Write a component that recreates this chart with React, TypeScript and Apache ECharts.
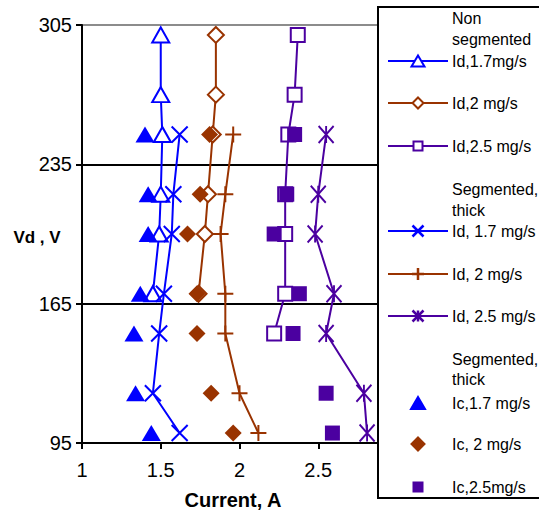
import React, { useEffect, useRef } from "react";
import * as echarts from "echarts";

// Discharge voltage levels (V)
const voltsNonSeg = [300, 270, 250, 220, 200, 170];
const voltsNonSeg25 = [300, 270, 250, 220, 200, 170, 150];
const voltsSeg = [250, 220, 200, 170, 150, 120, 100];

// Currents (A)
const idNonSeg17 = [1.5, 1.5, 1.51, 1.5, 1.49, 1.45];
const idNonSeg2 = [1.85, 1.85, 1.83, 1.8, 1.78, 1.74];
const idNonSeg25 = [2.37, 2.35, 2.31, 2.29, 2.29, 2.29, 2.22];
const idSeg17 = [1.62, 1.58, 1.57, 1.52, 1.49, 1.45, 1.62];
const idSeg2 = [1.96, 1.91, 1.88, 1.91, 1.91, 2.0, 2.12];
const idSeg25 = [2.55, 2.5, 2.48, 2.6, 2.55, 2.79, 2.81];
const icSeg17 = [1.4, 1.42, 1.42, 1.37, 1.33, 1.34, 1.44];
const icSeg2 = [1.81, 1.75, 1.67, 1.73, 1.73, 1.82, 1.96];
const icSeg25 = [2.35, 2.3, 2.22, 2.38, 2.34, 2.55, 2.59];

const xTicks = { min: 1, max: 3, step: 0.5 };
const yTicks = { min: 95, max: 305, step: 70 };

const BLUE = "#0000ff";
const BROWN = "#993300";
const PURPLE = "#4b00a0";
const FONT = "Liberation Sans, Arial, sans-serif";

const CROSS = "path://M0,0L10,10M10,0L0,10";
const PLUS = "path://M5,0L5,10M0,5L10,5";
const STAR = "path://M0,0L10,10M10,0L0,10M5,0L5,10";

const pairs = (xs: number[], ys: number[]) => xs.map((x, i) => [x, ys[i]]);

function lineSeries(name: string, xs: number[], ys: number[], color: string, symbol: string, size: any, open: boolean) {
  return {
    name,
    type: "line",
    z: 3,
    data: pairs(xs, ys),
    symbol,
    symbolSize: size,
    lineStyle: { color, width: 2 },
    itemStyle: { color: open ? "#ffffff" : color, borderColor: color, borderWidth: 2 },
  };
}

function scatterSeries(name: string, xs: number[], ys: number[], color: string, symbol: string, size: any) {
  return {
    name,
    type: "scatter",
    z: 3,
    data: pairs(xs, ys),
    symbol,
    symbolSize: size,
    itemStyle: { color, opacity: 1 },
  };
}

// Legend drawing helpers
const Z = 100;
function legendLine(y: number, color: string) {
  return { type: "line", z: Z, shape: { x1: 388, y1: y, x2: 448, y2: y }, style: { stroke: color, lineWidth: 2 } };
}
function legendText(y: number, text: string) {
  return {
    type: "text",
    z: Z,
    x: 452,
    y,
    style: { text, fill: "#000", font: `16px ${FONT}`, verticalAlign: "middle" },
  };
}
function triangle(cx: number, cy: number, w: number, h: number, fill: string, stroke: string) {
  return {
    type: "polygon",
    z: Z + 1,
    shape: { points: [[cx, cy - h / 2], [cx + w / 2, cy + h / 2], [cx - w / 2, cy + h / 2]] },
    style: { fill, stroke, lineWidth: 2 },
  };
}
function diamond(cx: number, cy: number, s: number, fill: string, stroke: string) {
  return {
    type: "polygon",
    z: Z + 1,
    shape: { points: [[cx, cy - s / 2], [cx + s / 2, cy], [cx, cy + s / 2], [cx - s / 2, cy]] },
    style: { fill, stroke, lineWidth: 2 },
  };
}
function square(cx: number, cy: number, s: number, fill: string, stroke: string) {
  return {
    type: "rect",
    z: Z + 1,
    shape: { x: cx - s / 2, y: cy - s / 2, width: s, height: s },
    style: { fill, stroke, lineWidth: 2 },
  };
}
function strokes(cx: number, cy: number, s: number, color: string, kind: "x" | "+" | "*") {
  const h = s / 2;
  const segs: number[][] = [];
  if (kind === "x" || kind === "*") {
    segs.push([cx - h, cy - h, cx + h, cy + h], [cx + h, cy - h, cx - h, cy + h]);
  }
  if (kind === "*") segs.push([cx, cy - h, cx, cy + h]);
  if (kind === "+") segs.push([cx, cy - h, cx, cy + h], [cx - h, cy, cx + h, cy]);
  return segs.map((p) => ({
    type: "line",
    z: Z + 1,
    shape: { x1: p[0], y1: p[1], x2: p[2], y2: p[3] },
    style: { stroke: color, lineWidth: 2.5 },
  }));
}

function buildLegend() {
  const mx = 418;
  const els: any[] = [
    { type: "rect", z: Z, shape: { x: 378, y: 7, width: 175, height: 491 }, style: { fill: "#fff", stroke: "#000", lineWidth: 2 } },
    legendText(18, "Non"),
    legendText(39, "segmented"),
    legendLine(61, BLUE),
    triangle(mx, 61, 13, 11, "#fff", BLUE),
    legendText(61, "Id,1.7mg/s"),
    legendLine(103, BROWN),
    diamond(mx, 103, 11, "#fff", BROWN),
    legendText(103, "Id,2 mg/s"),
    legendLine(146, PURPLE),
    square(mx, 146, 9, "#fff", PURPLE),
    legendText(146, "Id,2.5 mg/s"),
    legendText(189, "Segmented,"),
    legendText(210, "thick"),
    legendLine(231, BLUE),
    ...strokes(mx, 231, 11, BLUE, "x"),
    legendText(231, "Id, 1.7 mg/s"),
    legendLine(274, BROWN),
    ...strokes(mx, 274, 12, BROWN, "+"),
    legendText(274, "Id, 2 mg/s"),
    legendLine(316, PURPLE),
    ...strokes(mx, 316, 11, PURPLE, "*"),
    legendText(316, "Id, 2.5 mg/s"),
    legendText(359, "Segmented,"),
    legendText(379, "thick"),
    triangle(mx, 403, 14, 12, BLUE, BLUE),
    legendText(403, "Ic,1.7 mg/s"),
    diamond(mx, 444, 13, BROWN, BROWN),
    legendText(444, "Ic, 2 mg/s"),
    square(mx, 487, 9, PURPLE, PURPLE),
    legendText(487, "Ic,2.5mg/s"),
  ];
  return els;
}

export default function App() {
  const ref = useRef<HTMLDivElement>(null);

  useEffect(() => {
    if (!ref.current) return;
    const chart = echarts.init(ref.current, null, { renderer: "svg" });
    chart.setOption({
      animation: false,
      backgroundColor: "#ffffff",
      textStyle: { fontFamily: FONT },
      grid: { left: 82, top: 25, width: 315, height: 418 },
      xAxis: {
        type: "value",
        min: xTicks.min,
        max: xTicks.max,
        interval: xTicks.step,
        axisLine: { show: true, lineStyle: { color: "#000", width: 2 } },
        axisTick: { show: true, inside: false, length: 6, lineStyle: { color: "#000", width: 2 } },
        axisLabel: { color: "#000", fontSize: 20, margin: 17, fontFamily: FONT },
        splitLine: { show: false },
      },
      yAxis: {
        type: "value",
        min: yTicks.min,
        max: yTicks.max,
        interval: yTicks.step,
        axisLine: { show: true, lineStyle: { color: "#000", width: 2 } },
        axisTick: { show: true, inside: false, length: 6, lineStyle: { color: "#000", width: 2 } },
        axisLabel: { color: "#000", fontSize: 20, margin: 10, fontFamily: FONT },
        splitLine: { show: true, lineStyle: { color: ["#000", "#000", "#000", "#8c8c8c"], width: 2 } },
      },
      graphic: [
        {
          type: "text",
          x: 233,
          y: 500,
          style: { text: "Current, A", fill: "#000", font: `bold 20px ${FONT}`, align: "center", verticalAlign: "middle" },
        },
        {
          type: "text",
          x: 37,
          y: 237,
          style: { text: "Vd , V", fill: "#000", font: `bold 17px ${FONT}`, align: "center", verticalAlign: "middle" },
        },
        ...buildLegend(),
      ],
      series: [
        lineSeries("Non segmented Id,1.7mg/s", idNonSeg17, voltsNonSeg, BLUE, "triangle", [17, 15], true),
        lineSeries("Id,2 mg/s", idNonSeg2, voltsNonSeg, BROWN, "diamond", [16, 16], true),
        lineSeries("Id,2.5 mg/s", idNonSeg25, voltsNonSeg25, PURPLE, "rect", [14, 14], true),
        lineSeries("Segmented, thick Id, 1.7 mg/s", idSeg17, voltsSeg, BLUE, CROSS, [16, 16], false),
        lineSeries("Id, 2 mg/s", idSeg2, voltsSeg, BROWN, PLUS, [16, 16], false),
        lineSeries("Id, 2.5 mg/s", idSeg25, voltsSeg, PURPLE, STAR, [15, 17], false),
        scatterSeries("Segmented, thick Ic,1.7 mg/s", icSeg17, voltsSeg, BLUE, "triangle", [19, 16]),
        scatterSeries("Ic, 2 mg/s", icSeg2, voltsSeg, BROWN, "diamond", [17, 17]),
        scatterSeries("Ic,2.5mg/s", icSeg25, voltsSeg, PURPLE, "rect", [15, 15]),
      ],
    });
    return () => chart.dispose();
  }, []);

  return <div ref={ref} style={{ position: "absolute", left: 0, top: 0, width: 539, height: 510 }} />;
}
